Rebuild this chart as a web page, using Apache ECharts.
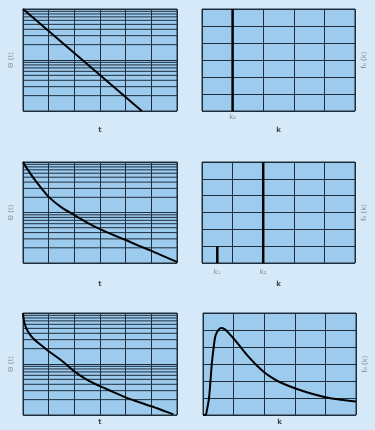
<!DOCTYPE html>
<html><head><meta charset="utf-8">
<script src="https://cdn.jsdelivr.net/npm/echarts@6/dist/echarts.min.js"></script>
<style>html,body{margin:0;padding:0;background:#d6e9f8;}#c{width:375px;height:430px;}</style>
</head><body><div id="c"></div>
<script>
// ---- data ----
const logMinor = [2,3,4,5,6,7,8,9,20,30,40,50,60,70,80,90];
// panel 1: exponential decay (straight on semi-log)
const t1 = [0, 4.63];
const v1 = [100, 1];
// panel 2: single spike
const k2 = [1];
const f2 = [6];
const k2Labels = ['k₀'];
// panel 3: two-exponential decay
const t3 = [0, 0.25, 0.5, 0.75, 1.0, 1.5, 2.0, 2.5, 3.0, 3.5, 4.0, 4.5, 5.0, 5.5, 6.0];
const v3 = [100, 63.1, 41.7, 28.8, 20.4, 12.6, 8.91, 6.31, 4.68, 3.63, 2.85, 2.21, 1.74, 1.35, 1.05];
// panel 4: two spikes
const k4 = [0.5, 2];
const f4 = [1, 6];
const k4Labels = ['k₁', 'k₂'];
// panel 5: continuous-distribution decay
const t5 = [0, 0.02, 0.06, 0.13, 0.26, 0.4, 0.6, 0.8, 1.0, 1.5, 2.0, 2.5, 3.0, 3.5, 4.0, 4.5, 5.0, 5.5, 5.86];
const v5 = [100, 79.4, 63.1, 50.1, 38.5, 31.6, 25.7, 21.4, 17.8, 11.75, 7.16, 4.9, 3.67, 2.85, 2.21, 1.80, 1.48, 1.20, 1.03];
// panel 6: continuous spectrum
const k6 = [0, 0.05, 0.1, 0.13, 0.19, 0.24, 0.29, 0.35, 0.40, 0.46, 0.56, 0.62, 0.73, 0.84, 1.0, 1.25, 1.5, 1.75, 2.0, 2.25, 2.5, 3.0, 3.5, 4.0, 4.5, 5.0];
const f6 = [0, 0, 0.05, 0.3, 0.9, 1.9, 3.05, 4.0, 4.6, 4.88, 5.1, 5.12, 5.02, 4.82, 4.5, 3.95, 3.4, 2.93, 2.52, 2.2, 1.94, 1.57, 1.28, 1.05, 0.9, 0.79];

const xNameT = 't', xNameK = 'k', yNameT = 'Θ (t)', yNameK = 'f₀ (k)';

// ---- styles ----
const GRIDC = '#1f2d3b', PLOT = '#9dcbee', LBL = '#7d8c99';
const zip = (a, b) => a.map((x, i) => [x, b[i]]);

const grids = [
  {left: 23, top: 9, width: 154, height: 102},
  {left: 202, top: 9, width: 153, height: 102},
  {left: 23, top: 162, width: 154, height: 101},
  {left: 202, top: 162, width: 153, height: 101},
  {left: 23, top: 313, width: 154, height: 102},
  {left: 203, top: 313, width: 153, height: 102}
].map(g => Object.assign(g, {show: true, backgroundColor: PLOT, borderColor: GRIDC, borderWidth: 1}));

const split = {show: true, lineStyle: {color: GRIDC, width: 1}};
const nameStyle = {color: LBL, fontSize: 7, fontFamily: 'DejaVu Sans'};
const xGaps = [16, 16, 18, 18, 4, 4];

const xAxes = grids.map((g, i) => {
  const left = i % 2 === 0;
  return {
    gridIndex: i, type: 'value', min: 0, max: left ? 6 : 5, interval: 1,
    axisLine: {show: false}, axisTick: {show: false}, axisLabel: {show: false},
    splitLine: split,
    name: left ? xNameT : xNameK, nameLocation: 'middle', nameGap: xGaps[i],
    nameTextStyle: {color: '#3a4652', fontSize: 7, fontWeight: 'bold', fontFamily: 'DejaVu Sans'}
  };
});
const yAxes = grids.map((g, i) => {
  const left = i % 2 === 0;
  const base = {
    gridIndex: i, axisLine: {show: false}, axisTick: {show: false}, axisLabel: {show: false},
    splitLine: split, nameLocation: 'middle', nameRotate: 90, nameTextStyle: nameStyle
  };
  if (left) return Object.assign(base, {type: 'log', logBase: 10, min: 1, max: 100, name: yNameT, nameGap: 8});
  return Object.assign(base, {type: 'value', min: 0, max: 6, interval: 1, position: 'right', name: yNameK, nameGap: 6});
});

// minor log grid lines drawn as flat line series through the log scale
const minorSeries = i => logMinor.map(v => ({
  type: 'line', xAxisIndex: i, yAxisIndex: i, data: [[0, v], [6, v]], showSymbol: false,
  silent: true, animation: false, z: 1, lineStyle: {color: GRIDC, width: 1}
}));
const curve = (i, data, extra) => Object.assign({
  type: 'line', xAxisIndex: i, yAxisIndex: i, data: data, showSymbol: false, smooth: 0.3,
  lineStyle: {color: '#000', width: 2}, clip: true, animation: false, z: 5
}, extra || {});
const spikes = (i, ks, fs, labels, dist) => ({
  type: 'bar', xAxisIndex: i, yAxisIndex: i, barWidth: 2.5, animation: false, z: 5,
  itemStyle: {color: '#000'},
  data: ks.map((k, j) => ({value: [k, fs[j]], label: {show: true, position: 'bottom', distance: dist, formatter: labels[j], color: LBL, fontSize: 7, fontFamily: 'DejaVu Sans'}}))
});

const series = [].concat(
  minorSeries(0), minorSeries(2), minorSeries(4),
  [
    curve(0, zip(t1, v1), {smooth: false}),
    spikes(1, k2, f2, k2Labels, 3),
    curve(2, zip(t3, v3)),
    spikes(3, k4, f4, k4Labels, 6),
    curve(4, zip(t5, v5)),
    curve(5, zip(k6, f6))
  ]
);

const chart = echarts.init(document.getElementById('c'), null, {renderer: 'canvas'});
chart.setOption({backgroundColor: '#d6e9f8', animation: false, grid: grids, xAxis: xAxes, yAxis: yAxes, series: series});
</script></body></html>
